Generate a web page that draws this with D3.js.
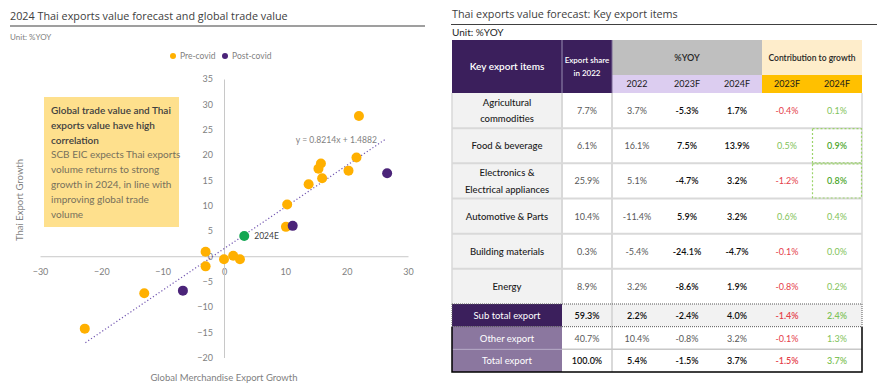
<!DOCTYPE html>
<html>
  <head>
    <meta charset="utf-8" />
    <title>Thai exports</title>
    <script src="https://cdn.jsdelivr.net/npm/d3@7"></script>
    <style type="text/css">
      body { margin: 0; background: #fff; }
      svg text { font-family: Lato, "Open Sans", sans-serif; }
      .ttl { font-family: "Open Sans", sans-serif; }
    </style>
  </head>
  <body>
    <svg id="chart" width="879" height="390"></svg>
    <script type="text/javascript">
      // scatter data [global merchandise export growth, thai export growth]
      var preCovid = [
        [22.0, 27.7], [21.6, 19.5], [15.8, 18.3], [15.4, 17.3], [16.0, 15.4],
        [20.3, 16.9], [13.8, 14.2], [10.3, 10.2], [10.1, 5.8],
        [-3.0, 0.9], [-3.0, -2.0], [0.0, -0.6], [1.5, 0.1], [2.6, -0.6],
        [-13.0, -7.3], [-22.7, -14.3]
      ];
      var postCovid = [[11.2, 6.0], [26.6, 16.4], [-6.7, -6.8]];
      var forecast = [[3.3, 4.0]]; // 2024E
      var slope = 0.8214, intercept = 1.4882;
      var trendRange = [-22.6, 26.4];
      var xTicks = [-30, -20, -10, 0, 10, 20, 30];
      var yTicks = [-20, -15, -10, -5, 0, 5, 10, 15, 20, 25, 30, 35];

      // table data
      var items = ['Agricultural|commodities', 'Food & beverage', 'Electronics &|Electrical appliances',
        'Automotive & Parts', 'Building materials', 'Energy'];
      var share = ['7.7%', '6.1%', '25.9%', '10.4%', '0.3%', '8.9%'];
      var yoy2022 = ['3.7%', '16.1%', '5.1%', '-11.4%', '-5.4%', '3.2%'];
      var yoy2023 = ['-5.3%', '7.5%', '-4.7%', '5.9%', '-24.1%', '-8.6%'];
      var yoy2024 = ['1.7%', '13.9%', '3.2%', '3.2%', '-4.7%', '1.9%'];
      var con2023 = ['-0.4%', '0.5%', '-1.2%', '0.6%', '-0.1%', '-0.8%'];
      var con2024 = ['0.1%', '0.9%', '0.8%', '0.4%', '0.0%', '0.2%'];
      var totals = ['Sub total export', 'Other export', 'Total export'];
      var totShare = ['59.3%', '40.7%', '100.0%'];
      var tot2022 = ['2.2%', '10.4%', '5.4%'];
      var tot2023 = ['-2.4%', '-0.8%', '-1.5%'];
      var tot2024 = ['4.0%', '3.2%', '3.7%'];
      var totC2023 = ['-1.4%', '-0.1%', '-1.5%'];
      var totC2024 = ['2.4%', '1.3%', '3.7%'];
      var highlighted = ['Food & beverage', 'Electronics &|Electrical appliances'];

      var svg = d3.select('#chart');

      // ---------- left panel ----------
      svg.append('text').attr('class', 'ttl').attr('x', 10).attr('y', 20)
        .attr('font-size', 10.8).attr('fill', '#404040')
        .text('2024 Thai exports value forecast and global trade value');
      svg.append('line').attr('x1', 10).attr('x2', 425).attr('y1', 26).attr('y2', 26)
        .attr('stroke', '#7f7f7f').attr('stroke-width', 1.5);
      svg.append('text').attr('x', 10).attr('y', 40).attr('font-size', 8)
        .attr('fill', '#7f7f7f').text('Unit: %YOY');

      var x = d3.scaleLinear().domain([-30, 30]).range([40, 408]);
      var y = d3.scaleLinear().domain([-20, 35]).range([357.5, 79]);

      var gx = svg.append('g').attr('transform', 'translate(0,' + y(0) + ')')
        .call(d3.axisBottom(x).tickValues(xTicks).tickSize(0).tickPadding(12));
      var gy = svg.append('g').attr('transform', 'translate(' + x(0) + ',0)')
        .call(d3.axisLeft(y).tickValues(yTicks).tickSize(0).tickPadding(11));
      [gx, gy].forEach(function (g) {
        g.select('.domain').attr('stroke', '#c8c8c8');
        g.selectAll('text').attr('fill', '#7f7f7f').attr('font-size', 9)
          .attr('font-family', 'Lato, sans-serif');
      });

      svg.append('text').attr('x', x(0)).attr('y', 381).attr('text-anchor', 'middle')
        .attr('font-size', 9.5).attr('fill', '#7f7f7f').text('Global Merchandise Export Growth');
      svg.append('text').attr('transform', 'translate(23,200) rotate(-90)')
        .attr('text-anchor', 'middle').attr('font-size', 9.5).attr('fill', '#7f7f7f')
        .text('Thai Export Growth');

      // legend
      var legend = [['Pre-covid', '#ffb000', 173], ['Post-covid', '#4b2479', 225]];
      legend.forEach(function (l) {
        svg.append('circle').attr('cx', l[2]).attr('cy', 56).attr('r', 3).attr('fill', l[1]);
        svg.append('text').attr('x', l[2] + 7).attr('y', 59).attr('font-size', 8.5)
          .attr('fill', '#7f7f7f').text(l[0]);
      });

      // annotation box
      svg.append('rect').attr('x', 44).attr('y', 97).attr('width', 135).attr('height', 130)
        .attr('fill', '#fee08d');
      var boxBold = ['Global trade value and Thai', 'exports value have high', 'correlation'];
      var boxText = ['SCB EIC expects Thai exports', 'volume returns to strong',
        'growth in 2024, in line with', 'improving global trade', 'volume'];
      svg.selectAll('.bb').data(boxBold).enter().append('text')
        .attr('x', 51).attr('y', (d, i) => 114 + i * 14.8)
        .attr('font-size', 10).attr('font-weight', 600).attr('fill', '#3f3f3f').text((d) => d);
      svg.selectAll('.bt').data(boxText).enter().append('text')
        .attr('x', 51).attr('y', (d, i) => 114 + (i + 3) * 14.8)
        .attr('font-size', 10).attr('fill', '#77705c').text((d) => d);

      // trend line
      svg.append('line')
        .attr('x1', x(trendRange[0])).attr('y1', y(slope * trendRange[0] + intercept))
        .attr('x2', x(trendRange[1])).attr('y2', y(slope * trendRange[1] + intercept))
        .attr('stroke', '#7256b0').attr('stroke-width', 1.2).attr('stroke-dasharray', '1.2,2.2');
      svg.append('text').attr('x', x(11.7)).attr('y', y(22.4)).attr('font-size', 8.6)
        .attr('fill', '#7f7f7f').text('y = ' + slope + 'x + ' + intercept);

      function dots(data, color) {
        svg.append('g').selectAll('circle').data(data).enter().append('circle')
          .attr('cx', (d) => x(d[0])).attr('cy', (d) => y(d[1])).attr('r', 5)
          .attr('fill', color);
      }
      dots(preCovid, '#ffb000');
      dots(postCovid, '#4b2479');
      dots(forecast, '#12a652');
      svg.append('text').attr('x', x(forecast[0][0]) + 10).attr('y', y(forecast[0][1]) + 3)
        .attr('font-size', 8.5).attr('fill', '#404040').text('2024E');

      // ---------- right panel : table ----------
      svg.append('text').attr('class', 'ttl').attr('x', 452).attr('y', 18)
        .attr('font-size', 10.8).attr('fill', '#404040')
        .text('Thai exports value forecast: Key export items');
      svg.append('line').attr('x1', 451).attr('x2', 877).attr('y1', 24.5).attr('y2', 24.5)
        .attr('stroke', '#404040').attr('stroke-width', 1);
      svg.append('text').attr('x', 452).attr('y', 36).attr('font-size', 10)
        .attr('fill', '#262626').text('Unit: %YOY');

      var colEdge = [452, 562, 612, 662, 712, 762, 812, 862];
      var colMid = (i) => (colEdge[i] + colEdge[i + 1]) / 2;
      var hTop = 40, hMid = 75, hBot = 93;
      var rows = d3.scaleBand().domain(items).range([hBot, 304]);
      var rowsB = d3.scaleBand().domain(totals).range([304, 372]);
      var T = svg.append('g');

      // header
      var dark = '#3b1f5c';
      T.append('rect').attr('x', colEdge[0]).attr('y', hTop).attr('width', colEdge[2] - colEdge[0])
        .attr('height', hBot - hTop).attr('fill', dark);
      T.append('line').attr('x1', colEdge[1]).attr('x2', colEdge[1]).attr('y1', hTop).attr('y2', hBot)
        .attr('stroke', '#7a6a96').attr('stroke-width', 1.5);
      T.append('rect').attr('x', colEdge[2]).attr('y', hTop).attr('width', 150).attr('height', hMid - hTop).attr('fill', '#bfbfbf');
      T.append('rect').attr('x', colEdge[2]).attr('y', hMid).attr('width', 150).attr('height', hBot - hMid).attr('fill', '#dccdf0');
      T.append('rect').attr('x', colEdge[5]).attr('y', hTop).attr('width', 100).attr('height', hMid - hTop).attr('fill', '#feedcb');
      T.append('rect').attr('x', colEdge[5]).attr('y', hMid).attr('width', 100).attr('height', hBot - hMid).attr('fill', '#ffc000');
      T.append('line').attr('x1', colEdge[2]).attr('x2', colEdge[2]).attr('y1', hTop).attr('y2', hBot)
        .attr('stroke', '#7a6a96').attr('stroke-width', 1);

      T.append('text').attr('x', colMid(0)).attr('y', 70).attr('text-anchor', 'middle')
        .attr('font-size', 10).attr('font-weight', 600).attr('fill', '#fff').text('Key export items');
      T.append('text').attr('x', colMid(1)).attr('y', 63).attr('text-anchor', 'middle')
        .attr('font-size', 8).attr('font-weight', 600).attr('fill', '#fff').text('Export share');
      T.append('text').attr('x', colMid(1)).attr('y', 76).attr('text-anchor', 'middle')
        .attr('font-size', 8).attr('font-weight', 600).attr('fill', '#fff').text('in 2022');
      T.append('text').attr('x', colMid(3)).attr('y', 60.5).attr('text-anchor', 'middle')
        .attr('font-size', 9).attr('font-weight', 600).attr('fill', '#262626').text('%YOY');
      T.append('text').attr('x', colEdge[6]).attr('y', 60.5).attr('text-anchor', 'middle')
        .attr('font-size', 8.5).attr('font-weight', 600).attr('fill', '#262626').text('Contribution to growth');
      var years = ['2022', '2023F', '2024F', '2023F', '2024F'];
      T.selectAll('.yr').data(years).enter().append('text')
        .attr('x', (d, i) => colMid(i + 2)).attr('y', 87).attr('text-anchor', 'middle')
        .attr('font-size', 9).attr('fill', '#1a1a1a').text((d) => d);

      // body rows
      T.selectAll('.c1').data(items).enter().append('rect')
        .attr('x', colEdge[0]).attr('y', (d) => rows(d)).attr('width', colEdge[1] - colEdge[0])
        .attr('height', rows.bandwidth()).attr('fill', '#f2f2f2');
      items.forEach(function (d, i) {
        if (i > 0) {
          T.append('line').attr('x1', colEdge[0]).attr('x2', colEdge[7])
            .attr('y1', rows(d)).attr('y2', rows(d)).attr('stroke', '#d9d9d9').attr('stroke-width', 2);
        }
        var lines = d.split('|');
        var cy = rows(d) + rows.bandwidth() / 2;
        lines.forEach(function (l, k) {
          T.append('text').attr('x', colMid(0)).attr('y', cy + 3.5 + (k - (lines.length - 1) / 2) * 16.3)
            .attr('text-anchor', 'middle').attr('font-size', 9.5).attr('font-weight', 500)
            .attr('fill', '#1a1a1a').text(l);
        });
      });

      function valColor(v) { return v.charAt(0) === '-' ? '#e5404a' : '#7fc35a'; }
      var cols = [share, yoy2022, yoy2023, yoy2024, con2023, con2024];
      cols.forEach(function (arr, c) {
        T.selectAll('.v' + c).data(arr).enter().append('text')
          .attr('x', colMid(c + 1)).attr('y', (d, i) => rows(items[i]) + rows.bandwidth() / 2 + 3.5)
          .attr('text-anchor', 'middle').attr('font-size', 9)
          .attr('font-weight', (d, i) => (c === 2 || c === 3 || (c === 5 && highlighted.includes(items[i]))) ? 600 : 400)
          .attr('fill', function (d, i) {
            if (c < 2) return '#595959';
            if (c < 4) return '#0d0d0d';
            if (c === 5 && highlighted.includes(items[i])) return '#4ea72e';
            return valColor(d);
          })
          .text((d) => d);
      });

      // vertical separators
      [colEdge[0], colEdge[1], colEdge[2], colEdge[7]].forEach(function (e, k) {
        T.append('line').attr('x1', e).attr('x2', e).attr('y1', hBot).attr('y2', 304)
          .attr('stroke', '#d9d9d9').attr('stroke-width', k === 0 || k === 3 ? 1.5 : 2);
      });

      // highlight boxes
      highlighted.forEach(function (d) {
        T.append('rect').attr('x', colEdge[6] + 0.5).attr('y', rows(d) + 0.5)
          .attr('width', 49).attr('height', rows.bandwidth() - 1)
          .attr('fill', 'none').attr('stroke', '#9bd46a').attr('stroke-width', 1.2)
          .attr('stroke-dasharray', '2,2');
      });

      // total rows
      var totFill = [dark, '#8b779f', '#8b779f'];
      var totCols = [totShare, tot2022, tot2023, tot2024, totC2023, totC2024];
      totals.forEach(function (d, i) {
        var ty = rowsB(d), h = rowsB.bandwidth();
        T.append('rect').attr('x', colEdge[1]).attr('y', ty).attr('width', colEdge[7] - colEdge[1])
          .attr('height', h).attr('fill', i === 0 ? '#f2f2f2' : '#fff');
        T.append('rect').attr('x', colEdge[0]).attr('y', ty).attr('width', colEdge[1] - colEdge[0])
          .attr('height', h).attr('fill', totFill[i]);
        T.append('text').attr('x', colMid(0)).attr('y', ty + h / 2 + 3.5).attr('text-anchor', 'middle')
          .attr('font-size', 9.5).attr('fill', '#fff').text(d);
        totCols.forEach(function (arr, c) {
          var v = arr[i];
          T.append('text').attr('x', colMid(c + 1)).attr('y', ty + h / 2 + 3.5)
            .attr('text-anchor', 'middle').attr('font-size', 9)
            .attr('font-weight', (i === 1) ? 400 : 600)
            .attr('fill', c < 4 ? (i === 1 ? '#595959' : '#0d0d0d') : valColor(v))
            .text(v);
        });
      });
      // lines around total rows
      T.append('line').attr('x1', colEdge[2]).attr('x2', colEdge[2]).attr('y1', 304).attr('y2', 372)
        .attr('stroke', '#d9d9d9').attr('stroke-width', 2);
      T.append('line').attr('x1', colEdge[1]).attr('x2', colEdge[7])
        .attr('y1', rowsB(totals[2])).attr('y2', rowsB(totals[2])).attr('stroke', '#c8c8c8').attr('stroke-width', 1.5);
      T.append('line').attr('x1', colEdge[0]).attr('x2', colEdge[1])
        .attr('y1', rowsB(totals[2])).attr('y2', rowsB(totals[2])).attr('stroke', '#b3a6c4').attr('stroke-width', 1);
      [304, rowsB(totals[1])].forEach(function (yy) {
        T.append('line').attr('x1', colEdge[0]).attr('x2', colEdge[7]).attr('y1', yy).attr('y2', yy)
          .attr('stroke', '#595959').attr('stroke-width', 1).attr('stroke-dasharray', '1,1');
      });
      T.append('path')
        .attr('d', 'M' + colEdge[0] + ',' + rowsB(totals[1]) + 'V372H' + colEdge[7] + 'V' + rowsB(totals[1]))
        .attr('fill', 'none').attr('stroke', '#000').attr('stroke-width', 1.5);
      T.append('line').attr('x1', colEdge[0]).attr('x2', colEdge[0]).attr('y1', 304).attr('y2', rowsB(totals[1]))
        .attr('stroke', '#595959').attr('stroke-dasharray', '1,1');
      T.append('line').attr('x1', colEdge[7]).attr('x2', colEdge[7]).attr('y1', 304).attr('y2', rowsB(totals[1]))
        .attr('stroke', '#595959').attr('stroke-dasharray', '1,1');
    </script>
  </body>
</html>
